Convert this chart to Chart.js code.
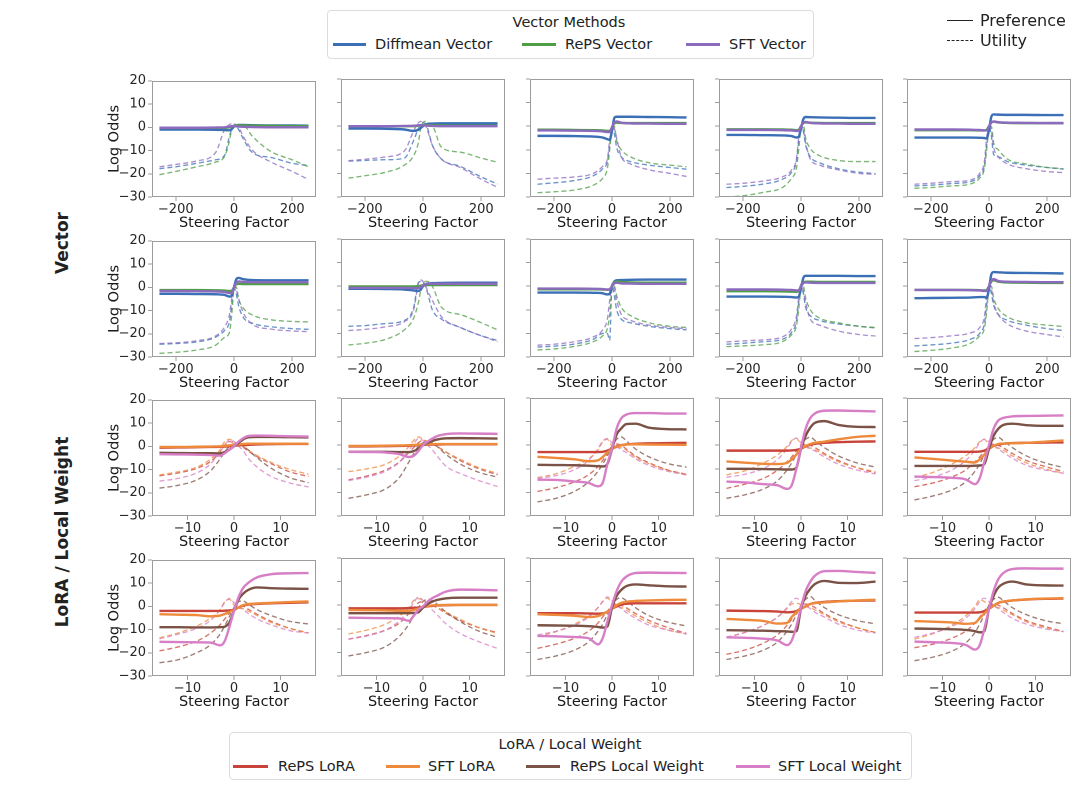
<!DOCTYPE html>
<html>
<head>
<meta charset="utf-8">
<script src="https://cdn.jsdelivr.net/npm/chart.js@4.4.1/dist/chart.umd.min.js"></script>
<style>
  body { margin: 0; width: 1080px; height: 795px; background: #fff; position: relative; overflow: hidden;
         font-family: "DejaVu Sans", sans-serif; color: #222; }
  .panel { position: absolute; }
  .box { position: absolute; border: 1px solid #dcdcdc; border-radius: 4px; background: #fff; }
  .txt { position: absolute; font-size: 14.5px; line-height: 18px; height: 18px; white-space: nowrap; }
  .big { font-size: 16px; }
  .sw { position: absolute; height: 0; }
  .rowlab { position: absolute; font-weight: bold; font-size: 17px; line-height: 20px; white-space: nowrap;
            transform: translate(-50%, -50%) rotate(-90deg); }
</style>
</head>
<body>
<div id="app"></div>
<script>
// ---- data ----
const xVector = [-256, -200, -128, -64, -32, -16, -8, 0, 8, 16, 32, 64, 128, 200, 256];
const xLora = [-16, -12, -8, -5, -3, -2, -1, 0, 1, 2, 3, 5, 8, 12, 16];
const vectorMethods = ['Diffmean Vector', 'RePS Vector', 'SFT Vector'];
const loraMethods = ['RePS LoRA', 'SFT LoRA', 'RePS Local Weight', 'SFT Local Weight'];
const yTicks = [20, 10, 0, -10, -20, -30];
const xTicksVector = [-200, 0, 200];
const xTicksLora = [-10, 0, 10];
const rowNames = ['Vector', 'LoRA / Local Weight'];

// vector panels: rows = Diffmean, RePS, SFT
const vecPref1 = [[-1,-1,-1,-1.1,-1.2,-1.3,-0.8,0.3,0.8,1,1,0.9,0.8,0.8,0.7],
                  [-0.3,-0.3,-0.3,-0.2,-0.2,0,0.3,0.6,0.8,0.9,0.8,0.7,0.6,0.5,0.5],
                  [-0.2,-0.2,-0.2,-0.1,0,0.3,0.5,0.5,0.4,0.3,0.2,0.1,0,0,0]];
const vecUtil1 = [[-17.8,-17,-15.5,-14,-12,-4,-1,1,0.5,-1,-5,-11,-13,-15.5,-16.5],
                  [-20.4,-19,-17,-15,-12.5,-6,-1,0.5,1,1.2,1,-4,-10.5,-14,-17],
                  [-17,-16,-14.5,-11,-1,1.2,1.5,1.5,1,0,-4,-10,-15,-19,-22.5]];
const vecPref2 = [[-1,-1,-1.1,-1.4,-2,-1.5,-0.8,0,0.6,1,1.1,1.2,1.2,1.2,1.2],
                  [0,0,0,0,0,0.2,0.4,0.5,0.5,0.5,0.4,0.3,0.2,0.2,0.2],
                  [0,0,0,0.1,0.2,0.4,0.5,0.4,0.3,0.2,0.1,0,0,0,0]];
const vecUtil2 = [[-14.8,-14.5,-14.2,-13.5,-6,-1,0.5,1.5,1,-1,-8,-14,-17,-21.5,-24.5],
                  [-22,-21,-19.5,-16.5,-12.5,-7,-1,1.5,2,1.5,0.5,-9,-11,-13.5,-15.3],
                  [-14.6,-14,-13,-10.5,-2,1.5,2,1.5,0.5,-2,-8,-14,-17.5,-22.5,-25.9]];
const vecPref3 = [[-4.1,-4.1,-4.2,-4.4,-4.8,-5.5,-5.8,-2,3.5,4,4,4,3.9,3.8,3.7],
                  [-1.5,-1.5,-1.6,-1.7,-1.8,-2,-2,-0.5,1.2,1.5,1.4,1.3,1.3,1.3,1.3],
                  [-1.8,-1.8,-1.9,-2,-2.2,-2.5,-2.5,-0.5,1.6,2,1.5,1.2,1.1,1,1]];
const vecUtil3 = [[-24.6,-24,-23,-21,-18,-15,-8,0,-3,-9,-13,-15,-16.5,-17.5,-18.2],
                  [-28.2,-27.8,-27,-25,-22,-18,-10,-1,0,-6,-10,-13,-15.5,-16.5,-17.2],
                  [-22.5,-22,-21.5,-20,-17,-14,-6,0,-1,-5,-13,-16,-18.5,-20,-21.3]];
const vecPref4 = [[-3.7,-3.7,-3.8,-3.9,-4.2,-4.8,-4.5,-1,3,3.9,3.8,3.7,3.6,3.5,3.5],
                  [-1.3,-1.3,-1.3,-1.4,-1.5,-1.7,-1.5,0,1.3,1.6,1.5,1.4,1.3,1.3,1.3],
                  [-1.6,-1.6,-1.6,-1.7,-1.8,-2,-2,0,1.5,1.8,1.4,1.2,1.1,1,1]];
const vecUtil4 = [[-26,-25.5,-24.5,-22.5,-19.5,-15,-7,0,-2,-8,-13,-15.5,-18,-19.5,-20.1],
                  [-30,-29.5,-28,-26,-22,-18,-10,-1,0.5,-5,-9.5,-12.5,-14.5,-15,-15],
                  [-24.6,-24.2,-23.2,-21.5,-18.5,-14,-5,0,-1.5,-7,-14,-16.5,-18.5,-20,-20.4]];
const vecPref5 = [[-4.8,-4.8,-4.8,-4.8,-4.9,-5,-5.2,-1.5,4,5,4.9,4.8,4.8,4.7,4.7],
                  [-1.7,-1.7,-1.7,-1.7,-1.8,-1.8,-1.5,0,1.5,1.9,1.6,1.4,1.3,1.3,1.3],
                  [-1.4,-1.4,-1.4,-1.5,-1.6,-1.8,-1.8,0,1.6,2,1.7,1.5,1.4,1.3,1.3]];
const vecUtil5 = [[-25.3,-25,-24.3,-23.5,-21,-17,-8,0,-4,-12,-13,-15,-16.5,-17.5,-18.2],
                  [-26.3,-26,-25.3,-24.5,-22,-18,-10,-1,0,-7,-10,-14,-16,-17.5,-18],
                  [-24.6,-24.2,-23.5,-22.8,-20,-15,-5,1,-2,-9,-13,-16,-18,-19.2,-19.7]];
const vecPref6 = [[-2.8,-2.8,-2.9,-3,-3.3,-4,-3.5,0,3.5,4,3.5,3.1,3,3,3],
                  [-1.2,-1.2,-1.2,-1.3,-1.4,-1.6,-1.5,0,1.3,1.5,1.4,1.4,1.4,1.4,1.4],
                  [-1.6,-1.6,-1.7,-1.8,-2,-2.5,-2.5,0,2,2.5,2.3,2.2,2.2,2.2,2.2]];
const vecUtil6 = [[-24.5,-24.2,-23.5,-21.5,-18.5,-15,-8,0,-3,-8,-13,-15.5,-17,-17.8,-18.1],
                  [-28.4,-28,-27,-25,-21.5,-19.5,-12,-1,0,-5,-9,-12,-14,-14.7,-14.9],
                  [-24.2,-23.9,-23,-21,-17,-12,-5,1,-1,-5,-11,-16,-18,-18.8,-19.1]];
const vecPref7 = [[-1.1,-1.1,-1.2,-1.4,-1.8,-2,-1.5,0,0.8,1.1,1.3,1.4,1.5,1.5,1.5],
                  [-0.1,-0.1,-0.1,-0.1,-0.1,0,0.2,0.4,0.5,0.5,0.5,0.5,0.5,0.5,0.5],
                  [-0.7,-0.7,-0.7,-0.7,-0.8,-0.8,-0.5,0.3,0.8,1,1,1,1,1,1]];
const vecUtil7 = [[-17,-16.7,-15.8,-14.5,-9,1.5,2,1.5,0,-3,-10,-14,-17.5,-21,-23],
                  [-24.9,-24.2,-22.5,-18.5,-13.5,-7,-2,1,2,2,0,-9,-12,-15.5,-18.5],
                  [-18.8,-18.3,-17.2,-15,-10,1,2.7,2,0.5,-2,-6,-13,-17.5,-21,-23.5]];
const vecPref8 = [[-2.7,-2.7,-2.7,-2.8,-3,-3.5,-3.2,0,2,2.5,2.6,2.7,2.8,2.8,2.8],
                  [-1.3,-1.3,-1.3,-1.3,-1.4,-1.5,-1.3,0,1.5,2,1.8,1.6,1.5,1.5,1.5],
                  [-1,-1,-1,-1.1,-1.2,-1.4,-1.4,0,1.2,1.5,1.2,1.1,1,1,1]];
const vecUtil8 = [[-25.8,-25.4,-24.5,-22.5,-20,-20,-23,0,-4,-10,-14,-15.5,-17,-18,-18.5],
                  [-27,-26.6,-25.5,-23.5,-21,-18,-12,-1,0,-4,-9,-12.5,-15.5,-17,-17.5],
                  [-25,-24.6,-23.5,-21.5,-18.5,-14,-6,1,-1,-6,-12,-14.5,-16.5,-17.5,-18]];
const vecPref9 = [[-4.4,-4.4,-4.4,-4.5,-4.6,-4.8,-4.5,-1,3.5,4.4,4.4,4.4,4.4,4.3,4.3],
                  [-2.1,-2.1,-2.1,-2.2,-2.3,-2.4,-2,0,1.5,1.9,1.9,1.8,1.8,1.8,1.8],
                  [-1.4,-1.4,-1.4,-1.5,-1.6,-1.8,-1.8,0,1.3,1.6,1.5,1.4,1.4,1.4,1.4]];
const vecUtil9 = [[-24.6,-24.2,-23.5,-22.5,-19.5,-15,-7,0,-3,-9,-12.5,-14.5,-16,-17,-17.7],
                  [-25.6,-25.3,-24.8,-23.5,-20.5,-17,-10,-1,0,-5,-10,-13.5,-15.5,-17,-17.5],
                  [-23.6,-23.2,-22.7,-21.5,-18,-13,-5,1,-2,-7,-14,-16.5,-19,-20.5,-21.1]];
const vecPref10 = [[-5.1,-5,-4.9,-4.8,-4.6,-4.6,-5,-1,5,6,5.9,5.7,5.6,5.5,5.4],
                   [-1.6,-1.6,-1.6,-1.6,-1.7,-1.8,-1.6,0,2,2.5,1.9,1.6,1.5,1.4,1.4],
                   [-1.6,-1.6,-1.6,-1.7,-1.8,-2,-2,0,2.3,3,2.2,1.9,1.8,1.7,1.7]];
const vecUtil10 = [[-25.3,-24.9,-24.1,-22.5,-20,-16,-8,0,-3,-8,-12,-14.5,-16.5,-18,-18.8],
                   [-27.7,-27.2,-26.2,-24.2,-21,-18,-11,-1,0,-5,-9.5,-13,-15.5,-16.5,-17.1],
                   [-22.2,-21.8,-21,-19.8,-17.5,-13,-4,1,-1,-7,-12,-16,-19,-20.5,-21.5]];

// lora / local weight panels: rows = RePS LoRA, SFT LoRA, RePS Local Weight, SFT Local Weight
const loraPref1 = [[-0.6,-0.5,-0.4,-0.3,-0.2,-0.1,0,0.2,0.4,0.5,0.6,0.8,0.9,1,1],
                   [-0.3,-0.3,-0.2,-0.1,0,0.2,0.4,0.6,0.8,1,1.1,1.1,1.1,1.1,1.1],
                   [-2.8,-2.9,-3,-3,-3.1,-2.5,-1.5,0,1.5,3,3.8,4,4,3.9,3.8],
                   [-3.4,-3.5,-3.6,-3.8,-4,-3,-1.5,0,2,3.5,4.4,4.6,4.5,4.3,4.2]];
const loraUtil1 = [[-12.7,-11.5,-9.5,-6.5,-2.5,0.5,2,1.5,0.5,-0.5,-2,-4.5,-7.5,-11,-13],
                   [-12.3,-11,-9,-5.5,-1.5,2,3,2,0.8,0,-1.5,-4,-7,-10,-12],
                   [-18,-16.8,-14.5,-10.5,-5.5,-2.5,0,1,1,0,-1.5,-5,-9.5,-13.5,-15.7],
                   [-15,-13.8,-11.5,-7.5,-2.5,0.5,2.5,2,0,-2,-5,-9,-13,-15.8,-17.5]];
const loraPref2 = [[-0.5,-0.5,-0.4,-0.3,-0.2,-0.1,0,0.1,0.2,0.3,0.3,0.4,0.4,0.4,0.4],
                   [-0.3,-0.3,-0.2,-0.1,0,0.1,0.2,0.3,0.4,0.5,0.5,0.5,0.5,0.5,0.5],
                   [-2.8,-2.8,-2.8,-2.9,-2.9,-2.5,-1.5,0,1,1.8,2.4,2.9,3,2.9,2.8],
                   [-2.8,-2.9,-3.1,-3.8,-5,-4.5,-2.5,0,1.5,2.8,3.8,4.7,5,4.9,4.8]];
const loraUtil2 = [[-14.7,-13,-10.5,-7,-3,-1,1,2,1.5,0.5,-0.5,-3,-6.5,-10,-12.5],
                   [-11.2,-10,-8,-4.5,-0.5,2,3.5,2.5,1.5,0.5,-0.5,-3,-6,-9.5,-12],
                   [-22.5,-21,-18.5,-13.5,-7,-3.5,-0.5,1,1.6,1,-0.5,-4,-8,-11.5,-13.5],
                   [-15,-13.5,-11,-7,-2,0.5,2.8,2,0,-2,-4.5,-9,-12,-15,-17.5]];
const loraPref3 = [[-2.9,-2.9,-2.9,-2.9,-2.9,-2.8,-2.3,-1.5,-0.5,0,0.3,0.6,0.8,0.9,1],
                   [-4.9,-5.4,-6,-6.8,-6.4,-5,-3.1,-1.6,-0.7,0,0.3,0.4,0.3,0.2,0.1],
                   [-8.3,-8.4,-8.5,-8.7,-8.9,-9,-8,-1.8,4.6,7.1,8.9,9.1,7.4,6.8,6.7],
                   [-14.6,-14.7,-15.4,-16,-17.4,-16,-8,-1.4,7.1,11.4,12.9,13.6,13.6,13.4,13.4]];
const loraUtil3 = [[-19.6,-18,-15.5,-12.5,-9,-6.5,-3.5,-0.5,0.5,0,-1.5,-4.5,-7.5,-10.5,-12.4],
                   [-13.7,-12.1,-8.9,-5.7,-2.1,1.4,2.5,-0.3,-0.8,-1.1,-2,-5,-7.9,-10.7,-12.4],
                   [-24,-22.5,-19.5,-15.5,-11,-8,-4.5,-0.5,2.5,3.5,2,-1.5,-5,-7.8,-9.3],
                   [-14,-12.9,-10.3,-6.4,-1.4,1.7,2.8,1,-0.5,-2,-3,-5.7,-8.6,-11.1,-12.6]];
const loraPref4 = [[-2.3,-2.3,-2.3,-2.3,-2.3,-2.2,-2,-1.5,-0.5,0.2,0.6,1,1.3,1.5,1.6],
                   [-6.9,-7.4,-7.9,-8,-7.5,-6,-4,-1.5,-0.3,0.5,1,1.5,2.5,3.5,4],
                   [-10,-10,-10.1,-10.2,-10.3,-10.3,-9.5,-1.5,4,7.5,9.5,10.2,8.6,7.8,7.7],
                   [-15.4,-15.8,-16.5,-17,-18.5,-17,-10,-1,7,11.5,13.5,14.6,14.7,14.5,14.3]];
const loraUtil4 = [[-18.3,-16.5,-14,-10.5,-7,-5,-2.5,-0.5,0.5,0,-1,-3.5,-6.5,-9.5,-11.8],
                   [-12.6,-10.8,-7.5,-4,-0.5,2,3,0,-1,-1.2,-2,-4,-7,-9.5,-11.2],
                   [-22.5,-21,-18.5,-15,-10.5,-7.5,-4,0,2.5,3.4,2,-1,-4.5,-7.5,-9.3],
                   [-13.6,-12.3,-9.8,-6,-1.5,1.5,3,1,-0.5,-1.5,-2.5,-5,-8,-10.5,-12.2]];
const loraPref5 = [[-2.8,-2.8,-2.8,-2.8,-2.8,-2.7,-2.3,-1.5,-0.3,0.3,0.6,0.9,1,1.1,1.2],
                   [-5.2,-5.8,-6.5,-7,-7.3,-6,-4,-1.5,-0.3,0.5,0.7,0.8,1,1.5,2],
                   [-8.8,-8.8,-8.8,-8.8,-8.7,-8.6,-8,-1.5,4,7,8.5,9.1,8.5,8.2,8.2],
                   [-13.3,-13.5,-13.8,-14.5,-16.5,-14,-7,0,7,10.5,11.5,12.2,12.4,12.5,12.6]];
const loraUtil5 = [[-17.6,-16,-13.5,-10.5,-7,-5,-2.5,-0.5,0.5,0,-1,-3.5,-6.5,-9,-11.2],
                   [-13.7,-11.5,-8,-4.5,-1,1.5,2.5,0,-1,-1.2,-2,-4.5,-7.5,-10,-11.9],
                   [-23.2,-21.5,-19,-15.5,-11,-8,-4,0,2.5,3.3,2,-1,-4.5,-7.5,-9.5],
                   [-15,-13.5,-10.5,-6.5,-2,1,2.5,1.5,0,-1.5,-3,-5.5,-8.5,-10.5,-11.9]];
const loraPref6 = [[-2,-2,-2,-2,-2,-1.9,-1.8,-1.5,-0.5,0.3,0.7,1,1.3,1.5,1.7],
                   [-3.4,-3.6,-3.8,-4.3,-4,-3.3,-2.5,-1.5,-0.5,0.5,0.9,1.2,1.5,1.8,2.1],
                   [-9,-9,-9.1,-9.1,-9,-8.8,-7,-2,3,5.5,7,8.1,7.8,7.6,7.5],
                   [-15.3,-15.4,-15.5,-15.6,-16.8,-15,-9,-2,4,8,10,12.5,13.8,14.2,14.3]];
const loraUtil6 = [[-19.2,-17.5,-15,-11.5,-8,-5.5,-3,-1,0.5,0,-1.2,-3.5,-6.5,-9.5,-11.5],
                   [-13.6,-11.5,-8.5,-5,-1.5,2,3,0.5,-0.8,-1,-2,-4,-7,-9.5,-11.5],
                   [-24.3,-23,-20,-16.5,-12,-8.5,-4.5,-0.5,2,2.3,1,-1.5,-4,-6.5,-7.6],
                   [-14,-12,-9.5,-6,-1.5,1.5,3.4,1.5,0,-1.5,-3,-5.5,-8,-10.5,-11.5]];
const loraPref7 = [[-1.3,-1.3,-1.3,-1.3,-1.2,-1.1,-1,-0.8,-0.5,-0.3,-0.1,0,0.1,0.1,0.1],
                   [-2,-2.1,-2.2,-2.4,-2.4,-2,-1.5,-0.8,-0.4,-0.1,0,0.1,0.1,0.1,0.1],
                   [-3.4,-3.4,-3.4,-3.4,-3.4,-3.3,-3,-1,0.5,1.5,2.2,2.9,3.2,3.2,3.2],
                   [-5.3,-5.4,-5.5,-5.6,-6.6,-4.5,-2,-0.5,1.5,3,4,5.8,6.6,6.5,6.3]];
const loraUtil7 = [[-14.4,-12.8,-10.5,-7.5,-3.5,-1.5,1,1.5,1,0,-1,-3.5,-6.5,-9.5,-11.6],
                   [-12.2,-10.5,-8,-4.5,-1,2,2.8,2,1,0,-1,-3,-6,-9.5,-12],
                   [-21.5,-20,-17.5,-13,-8,-4.5,-1,1.5,2.5,2,0.5,-3,-7,-11,-13.6],
                   [-14.4,-13,-10.5,-6.5,-2,1,3.5,2,0,-2,-4,-8,-12,-15.5,-18.3]];
const loraPref8 = [[-3.4,-3.4,-3.4,-3.5,-3.6,-3.5,-2.8,-1.5,-0.5,0.3,0.6,0.8,0.8,0.8,0.8],
                   [-3.8,-4.1,-4.5,-5,-4.6,-3.8,-2.8,-1.5,0,1,1.4,1.8,2,2.2,2.3],
                   [-8.5,-8.6,-8.7,-8.9,-9.2,-9.5,-9,-1,4,6.5,8,8.8,8.4,8,7.9],
                   [-13,-13.2,-13.5,-14,-16.6,-14,-7,0,6,10,12,13.6,13.8,13.7,13.6]];
const loraUtil8 = [[-18.3,-16.5,-14,-11,-7.5,-5,-2.5,-0.5,0.5,0,-1,-3.5,-6.5,-9.5,-12],
                   [-13.3,-11.2,-8,-4.5,-1,1.5,3,1,-0.5,-1,-2,-4.5,-7.5,-10.5,-12.2],
                   [-23,-21.5,-19,-15.5,-11,-8,-4,0,2.5,3.2,2,-1,-4.5,-7.2,-8.8],
                   [-12.6,-11,-8.5,-5,-1,1.5,3.5,2,0,-1.5,-3,-5.5,-8.5,-10.5,-12.2]];
const loraPref9 = [[-2.3,-2.4,-2.5,-2.7,-3,-2.9,-2.5,-1.5,-0.5,0.5,1,1.4,1.7,1.9,2],
                   [-5.8,-6.2,-6.7,-7.8,-7.5,-5,-3,-1.5,-0.5,0.5,0.9,1.2,1.6,2,2.3],
                   [-10.6,-10.7,-10.8,-11,-11.1,-11.3,-11,-1.5,4,7,9,10.3,9.5,9.4,10],
                   [-13.6,-13.8,-14.2,-15,-16.9,-15,-9,-1,6,10,12.5,14.4,14.5,14.1,13.7]];
const loraUtil9 = [[-20.8,-19,-16,-12.5,-8.5,-6,-3,-0.8,0.5,0,-1,-3.5,-6.5,-9.5,-11.6],
                   [-13.7,-11.5,-8.5,-5,-1.5,0.5,0.8,0.3,-0.5,-1,-2,-4,-7,-9.5,-11.6],
                   [-23,-21.5,-19,-15.5,-11,-8,-4,0,2.5,3.7,2,-1,-4,-6.5,-7.9],
                   [-13.6,-11.5,-8.5,-5,-1,1.5,3,1.5,0,-1.5,-3,-5,-8,-10.5,-11.8]];
const loraPref10 = [[-3.1,-3.1,-3.1,-3.1,-3.1,-3,-2.5,-1.5,-0.2,1,1.5,2,2.4,2.7,2.8],
                    [-6.7,-7,-7.3,-7.9,-7.5,-5.5,-3.5,-1.5,-0.2,1,1.5,2,2.5,2.8,3],
                    [-9.9,-10,-10.2,-10.5,-11,-11.5,-11,-1.5,4,7.5,9,10,8.8,8.4,8.3],
                    [-15.4,-15.7,-16,-16.8,-18.8,-17,-10,-1.5,6,11,13.5,15.3,15.6,15.5,15.5]];
const loraUtil10 = [[-18,-16.5,-14,-11,-7.5,-5,-2.5,-0.5,0.5,0,-1,-3.5,-6.5,-9,-11.2],
                    [-14.4,-12,-8.5,-4.5,-0.5,2.3,1.5,0,-0.8,-1,-2,-4,-7,-9.5,-11.2],
                    [-23.5,-22,-19.5,-16,-11.5,-8,-4,0,2.5,3.4,2,-1,-4,-6.5,-7.9],
                    [-13.6,-11.8,-9,-5.5,-1.5,1.5,3,1.5,0,-1.5,-3,-5.5,-8,-10,-11.2]];

const vectorPanels = [[vecPref1, vecUtil1], [vecPref2, vecUtil2], [vecPref3, vecUtil3], [vecPref4, vecUtil4], [vecPref5, vecUtil5],
                      [vecPref6, vecUtil6], [vecPref7, vecUtil7], [vecPref8, vecUtil8], [vecPref9, vecUtil9], [vecPref10, vecUtil10]];
const loraPanels = [[loraPref1, loraUtil1], [loraPref2, loraUtil2], [loraPref3, loraUtil3], [loraPref4, loraUtil4], [loraPref5, loraUtil5],
                    [loraPref6, loraUtil6], [loraPref7, loraUtil7], [loraPref8, loraUtil8], [loraPref9, loraUtil9], [loraPref10, loraUtil10]];

// ---- styles ----
const vectorColors = ['#3b6fb6', '#4f9e45', '#8c6bbf'];
const loraColors = ['#c8443a', '#ee8a3c', '#7b5246', '#d77ec6'];
const dashedColors = {
  '#3b6fb6': 'rgba(59,111,182,0.75)', '#4f9e45': 'rgba(79,158,69,0.75)', '#8c6bbf': 'rgba(140,107,191,0.75)',
  '#c8443a': 'rgba(200,68,58,0.75)', '#ee8a3c': 'rgba(238,138,60,0.75)', '#7b5246': 'rgba(123,82,70,0.75)', '#d77ec6': 'rgba(215,126,198,0.75)'
};
const colLeft = [152, 341, 530, 719, 907];
const rowTop = [79, 239, 398, 558];
const boxW = 164, boxH = 118;
const axisW = 60, axisH = 42, padTop = 8, padRight = 6;
const tickFont = { family: 'DejaVu Sans', size: 13 };
const titleFont = { family: 'DejaVu Sans', size: 14.5 };
const spine = '#9c9c9c';

const minus = v => (v < 0 ? '\u2212' + Math.abs(v) : String(v));

const framePlugin = {
  id: 'frame',
  afterDraw(chart) {
    const { ctx, chartArea: a } = chart;
    ctx.save();
    ctx.strokeStyle = spine;
    ctx.lineWidth = 1;
    ctx.strokeRect(Math.round(a.left) + 0.5, Math.round(a.top) + 0.5, Math.round(a.right - a.left) - 1, Math.round(a.bottom - a.top) - 1);
    ctx.restore();
  }
};

function toPoints(xs, ys) {
  return xs.map((x, i) => ({ x: x, y: ys[i] }));
}

function drawPanel(row, col, xs, xTicks, xMax, colors, pref, util) {
  const W = axisW + boxW + padRight, H = padTop + boxH + axisH;
  const div = document.createElement('div');
  div.className = 'panel';
  div.style.left = (colLeft[col] - axisW) + 'px';
  div.style.top = (rowTop[row] - padTop) + 'px';
  div.style.width = W + 'px';
  div.style.height = H + 'px';
  const canvas = document.createElement('canvas');
  canvas.width = W; canvas.height = H;
  canvas.style.width = W + 'px'; canvas.style.height = H + 'px';
  div.appendChild(canvas);
  document.getElementById('app').appendChild(div);

  // solid lines on top: later methods (local weights) above
  const datasets = [];
  const order = colors.map((c, i) => i).reverse();
  order.forEach(i => datasets.push({
    data: toPoints(xs, pref[i]), borderColor: colors[i], borderWidth: 2.4,
    pointRadius: 0, fill: false, cubicInterpolationMode: 'monotone'
  }));
  order.forEach(i => datasets.push({
    data: toPoints(xs, util[i]), borderColor: dashedColors[colors[i]], borderWidth: 1.35,
    borderDash: [5, 3], pointRadius: 0, fill: false, cubicInterpolationMode: 'monotone'
  }));

  const first = col === 0;
  new Chart(canvas.getContext('2d'), {
    type: 'line',
    data: { datasets: datasets },
    options: {
      responsive: false,
      animation: false,
      devicePixelRatio: 2,
      layout: { padding: { left: 0, right: padRight, top: padTop, bottom: 0 } },
      plugins: { legend: { display: false }, tooltip: { enabled: false } },
      scales: {
        x: {
          type: 'linear', min: -xMax, max: xMax,
          afterBuildTicks: s => { s.ticks = xTicks.map(v => ({ value: v })); },
          afterFit: s => { s.height = axisH; },
          grid: { display: true, drawOnChartArea: false, drawTicks: true, tickLength: 4, color: spine },
          border: { display: false },
          ticks: { font: tickFont, color: '#262626', padding: 1, maxRotation: 0, callback: v => minus(v) },
          title: { display: true, text: 'Steering Factor', font: titleFont, color: '#1a1a1a', padding: { top: 0, bottom: 7 } }
        },
        y: {
          type: 'linear', min: -30, max: 20,
          afterBuildTicks: s => { s.ticks = yTicks.map(v => ({ value: v })); },
          afterFit: s => { s.width = axisW; },
          grid: { display: true, drawOnChartArea: false, drawTicks: true, tickLength: 4, color: spine },
          border: { display: false },
          ticks: { display: first, font: tickFont, color: '#262626', padding: 2, callback: v => minus(v) },
          title: { display: first, text: 'Log Odds', font: titleFont, color: '#1a1a1a', padding: { top: 14, bottom: 0 } }
        }
      }
    },
    plugins: [framePlugin]
  });
}

vectorPanels.forEach((p, k) => drawPanel(Math.floor(k / 5), k % 5, xVector, xTicksVector, 281.6, vectorColors, p[0], p[1]));
loraPanels.forEach((p, k) => drawPanel(2 + Math.floor(k / 5), k % 5, xLora, xTicksLora, 17.6, loraColors, p[0], p[1]));

// ---- legends and row labels ----
function addEl(html) {
  document.body.insertAdjacentHTML('beforeend', html);
}
function swatch(x1, x2, y, color) {
  addEl(`<div class="sw" style="left:${x1}px;top:${y - 1.5}px;width:${x2 - x1}px;border-top:3px solid ${color}"></div>`);
}
function label(x, y, text, cls) {
  addEl(`<div class="txt ${cls || ''}" style="left:${x}px;top:${y - 9}px">${text}</div>`);
}
function centered(cx, y, text) {
  addEl(`<div class="txt" style="left:${cx - 150}px;width:300px;text-align:center;top:${y - 9}px">${text}</div>`);
}

addEl('<div class="box" style="left:327px;top:10px;width:485px;height:47px"></div>');
centered(569, 22, 'Vector Methods');
const vecSw = [[333, 366, 375], [522, 556, 565], [686, 720, 729]];
vectorMethods.forEach((m, i) => { swatch(vecSw[i][0], vecSw[i][1], 44, vectorColors[i]); label(vecSw[i][2], 44, m); });

addEl('<div class="box" style="left:229px;top:732px;width:681px;height:46px"></div>');
centered(570, 744, 'LoRA / Local Weight');
const loraSw = [[233, 268, 278], [386, 420, 428], [526, 560, 570], [736, 770, 778]];
loraMethods.forEach((m, i) => { swatch(loraSw[i][0], loraSw[i][1], 766, loraColors[i]); label(loraSw[i][2], 766, m); });

addEl('<div class="sw" style="left:947px;top:20px;width:26px;border-top:1.4px solid #222"></div>');
label(980, 21, 'Preference', 'big');
addEl('<div class="sw" style="left:947px;top:40px;width:26px;border-top:1.4px dashed #222"></div>');
label(980, 41, 'Utility', 'big');

addEl(`<div class="rowlab" style="left:62px;top:243px">${rowNames[0]}</div>`);
addEl(`<div class="rowlab" style="left:62px;top:532px">${rowNames[1]}</div>`);
</script>
</body>
</html>
